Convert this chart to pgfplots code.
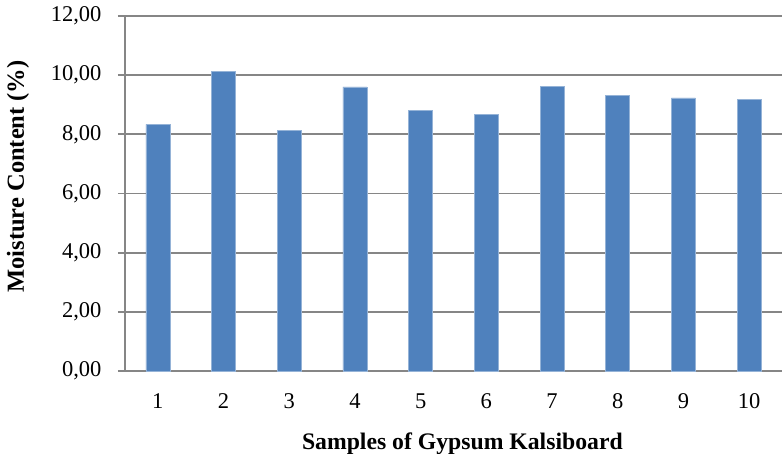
\documentclass[border=0pt]{standalone}
\usepackage{fontspec}
\setmainfont{Liberation Serif}
\usepackage{pgfplots}
\pgfplotsset{compat=1.18}
\definecolor{barblue}{RGB}{79,129,189}
\definecolor{gridgray}{RGB}{134,134,134}
\begin{document}
\fontsize{22}{26}\selectfont
\begin{tikzpicture}
\useasboundingbox (0,0) rectangle (783pt,454pt);
\begin{axis}[
  at={(125pt,83pt)}, anchor=south west,
  scale only axis, width=657pt, height=355pt,
  xmin=0.5, xmax=10.5, ymin=0, ymax=12,
  axis lines=left, axis line style={-, draw=gridgray, line width=1.9pt},
  xtick={1,...,10}, xtick style={draw=none},
  ytick={0,2,...,12},
  tick align=outside, major tick length=7pt,
  ytick style={draw=gridgray, line width=1.9pt},
  ymajorgrids, grid style={draw=gridgray, line width=1.9pt},
  /pgf/number format/assume math mode=true,
  yticklabel={\pgfmathprintnumber[fixed,fixed zerofill,precision=2,use comma]{\tick}},
  ticklabel style={font=\fontsize{22.5}{26}\selectfont},
  yticklabel style={xshift=-9pt},
  xticklabel style={yshift=-8pt},
  xlabel={Samples of Gypsum Kalsiboard},
  xlabel style={font=\fontsize{23.7}{28}\selectfont\bfseries, at={(axis description cs:0.5135,-0.2225)}, anchor=base},
  ylabel={Moisture Content (\%)},
  ylabel style={font=\fontsize{24.5}{28}\selectfont\bfseries, at={(axis description cs:-0.163,0.548)}, anchor=center},
  clip=false,
]
\addplot[ybar, bar width=24pt, fill=barblue, draw=barblue!60!white, line width=0.6pt] coordinates {
(1,8.34) (2,10.12) (3,8.12) (4,9.60) (5,8.81) (6,8.68) (7,9.61) (8,9.32) (9,9.23) (10,9.17)
};
\end{axis}
\end{tikzpicture}
\end{document}
